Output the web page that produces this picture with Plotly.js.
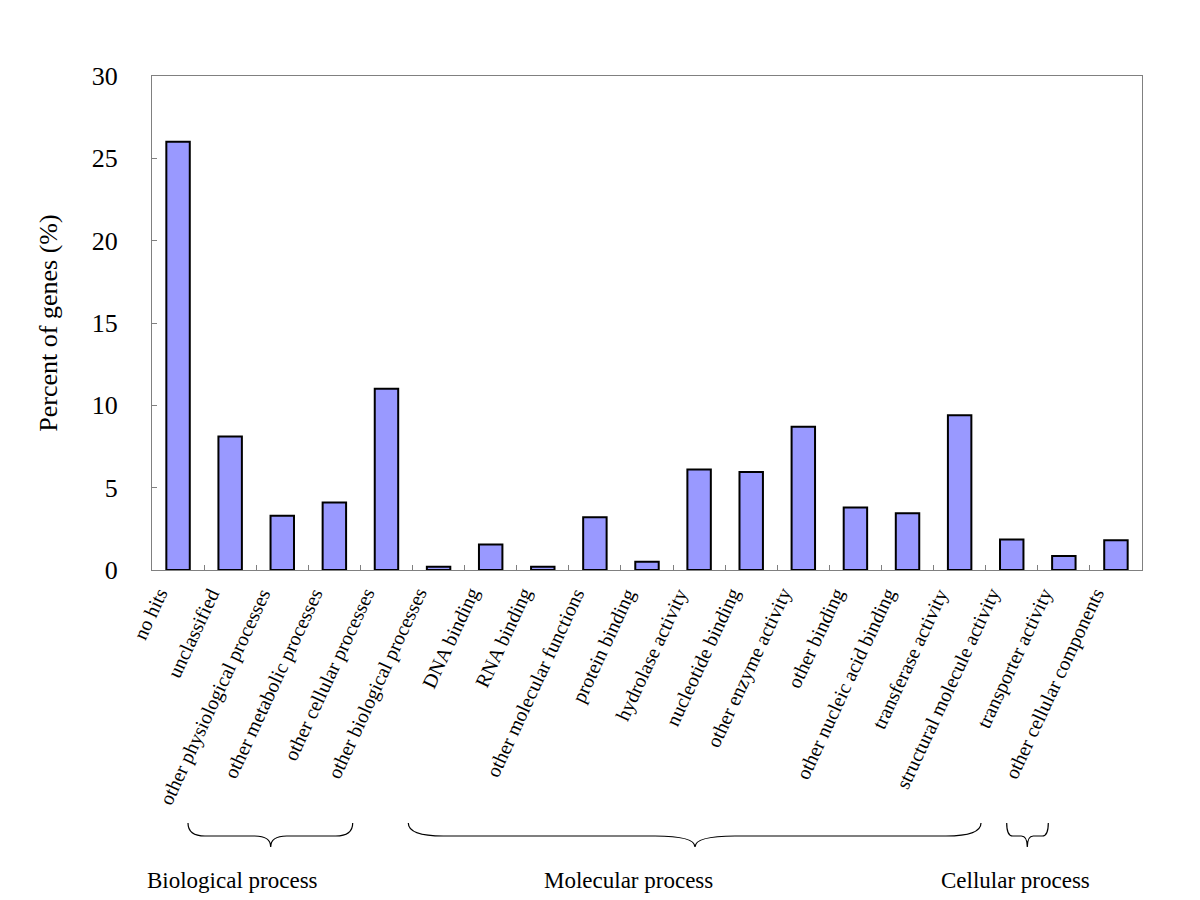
<!DOCTYPE html>
<html>
<head>
<meta charset="utf-8">
<script src="https://cdn.plot.ly/plotly-3.0.1.min.js"></script>
<style>html,body{margin:0;padding:0;background:#fff;}#chart{width:1200px;height:900px;}</style>
</head>
<body>
<div id="chart"></div>
<script>
const categories = [
  "no hits", "unclassified", "other physiological processes", "other metabolic processes",
  "other cellular processes", "other biological processes", "DNA binding", "RNA binding",
  "other molecular functions", "protein binding", "hydrolase activity", "nucleotide binding",
  "other enzyme activity", "other binding", "other nucleic acid binding", "transferase activity",
  "structural molecule activity", "transporter activity", "other cellular components"
];
const percentValues = [26.0, 8.1, 3.3, 4.1, 11.0, 0.2, 1.55, 0.2, 3.2, 0.5, 6.1, 5.95, 8.7, 3.8, 3.45, 9.4, 1.85, 0.85, 1.8];
const groupLabels = ["Biological process", "Molecular process", "Cellular process"];
const yTickVals = [0, 5, 10, 15, 20, 25, 30];

// plot area in pixels
const L = 152, R = 1142, T = 76, B = 570;
const px = x => (x - L) / (R - L);
const py = y => (B - y) / (B - T);

function brace(x0, xm, x1, d, dm) {
  const yt = 823, yb = 836, yp = 847;
  const P = (x, y) => px(x) + "," + py(y);
  const path = "M" + P(x0, yt) +
    " Q" + P(x0, yb) + " " + P(x0 + d, yb) +
    " L" + P(xm - dm, yb) +
    " Q" + P(xm, yb) + " " + P(xm, yp) +
    " Q" + P(xm, yb) + " " + P(xm + dm, yb) +
    " L" + P(x1 - d, yb) +
    " Q" + P(x1, yb) + " " + P(x1, yt);
  return {type: "path", xref: "paper", yref: "paper", path: path,
          line: {color: "#000", width: 1.2}};
}

const trace = {
  type: "bar",
  x: categories,
  y: percentValues,
  width: 0.45,
  marker: {color: "#9999FF", line: {color: "#000000", width: 2}},
  hoverinfo: "x+y"
};

const labelFont = {size: 20, family: "Liberation Serif, serif", color: "#000"};
const catLabels = categories.map(c => ({
  text: c, x: c, xref: "x", y: py(582), yref: "paper",
  showarrow: false, textangle: -65, xanchor: "right", yanchor: "top",
  xshift: -4, font: labelFont
}));

const groupPos = [232.5, 628.5, 1015];
const groupAnn = groupLabels.map((g, i) => ({
  text: g, x: px(groupPos[i]), y: py(880), xref: "paper", yref: "paper",
  showarrow: false, xanchor: "center", yanchor: "middle", font: {size: 23}
}));

const layout = {
  width: 1200, height: 900,
  margin: {l: L, r: 1200 - R, t: T, b: 900 - B},
  paper_bgcolor: "#fff", plot_bgcolor: "#fff",
  font: {family: "Liberation Serif, Times New Roman, serif", color: "#000"},
  showlegend: false,
  xaxis: {
    type: "category",
    range: [-0.5, categories.length - 0.5],
    autorange: false,
    tickson: "boundaries",
    ticks: "inside", ticklen: 5, tickcolor: "#808080", tickwidth: 1,
    showline: true, linecolor: "#808080", linewidth: 1, mirror: true,
    showgrid: false,
    showticklabels: false
  },
  yaxis: {
    range: [0, 30],
    autorange: false,
    tickvals: yTickVals,
    ticks: "inside", ticklen: 5, tickcolor: "#808080", tickwidth: 1,
    showline: true, linecolor: "#808080", linewidth: 1, mirror: true,
    showgrid: false, zeroline: false,
    ticklabelstandoff: 28,
    tickfont: {size: 26, family: "Liberation Serif, serif", color: "#000"},
    title: {text: "Percent of genes (%)", font: {size: 26, family: "Liberation Serif, serif", color: "#000"}, standoff: 26}
  },
  shapes: [
    brace(188, 270.7, 352.7, 17, 16),
    brace(408.3, 695, 981, 35, 40),
    brace(1006.7, 1027.3, 1048.3, 6, 6)
  ],
  annotations: catLabels.concat(groupAnn)
};

Plotly.newPlot("chart", [trace], layout, {displayModeBar: false, staticPlot: true});
</script>
</body>
</html>
